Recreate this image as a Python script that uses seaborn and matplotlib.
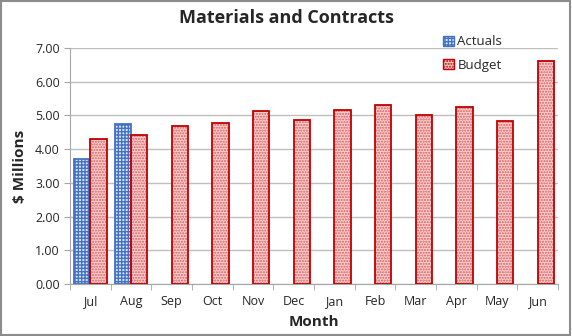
import numpy as np
import pandas as pd
import matplotlib
matplotlib.use("Agg")
import matplotlib.pyplot as plt
import seaborn as sns
from matplotlib.ticker import FixedLocator, MultipleLocator
from matplotlib.patches import Patch
from matplotlib.colors import to_hex

months = ["Jul", "Aug", "Sep", "Oct", "Nov", "Dec", "Jan", "Feb", "Mar", "Apr", "May", "Jun"]
actuals = [3.72, 4.76, np.nan, np.nan, np.nan, np.nan, np.nan, np.nan, np.nan, np.nan, np.nan, np.nan]
budget = [4.30, 4.42, 4.70, 4.78, 5.13, 4.87, 5.17, 5.30, 5.02, 5.25, 4.83, 6.62]
series = ["Actuals", "Budget"]

df = pd.DataFrame({
    "Month": months * 2,
    "Value": actuals + budget,
    "Series": [series[0]] * len(months) + [series[1]] * len(months),
})

sns.set_style("white")
plt.rcParams["font.family"] = ["Open Sans", "DejaVu Sans"]
plt.rcParams["hatch.linewidth"] = 1.0

fig = plt.figure(figsize=(5.72, 3.36), dpi=100)
ax = fig.add_axes([0.1224, 0.155, 0.853, 0.702])

key_colors = {"Actuals": "#0000ff", "Budget": "#ff0000"}
sns.barplot(data=df, x="Month", y="Value", hue="Series", order=months,
            hue_order=series, width=0.8, ax=ax, legend=False, saturation=1,
            palette=key_colors)

styles = {
    "Actuals": dict(face="#DCE6F5", hatch="+++++", edge="#4472C4", hc="#4472C4"),
    "Budget": dict(face="#F6D0D0", hatch="......", edge="#C00000", hc="#E05A5A"),
}
color_to_series = {v: k for k, v in key_colors.items()}
bars = list(ax.patches)
for p in bars:
    sname = color_to_series.get(to_hex(p.get_facecolor()))
    if sname is None or np.isnan(p.get_height()) or p.get_height() == 0:
        continue
    s = styles[sname]
    p.set_facecolor(s["face"])
    p.set_hatch(s["hatch"])
    p.set_edgecolor(s["hc"])
    p.set_linewidth(0)
    ax.add_patch(plt.Rectangle(p.get_xy(), p.get_width(), p.get_height(),
                               fill=False, edgecolor=s["edge"], linewidth=1.3, zorder=3))

ax.set_ylim(0, 7)
ax.set_xlim(-0.5, len(months) - 0.5)
ax.yaxis.set_major_locator(MultipleLocator(1))
ax.set_yticks(np.arange(0, 8))
ax.set_yticklabels([f"{v:.2f}" for v in np.arange(0, 8)])
ax.yaxis.grid(True, color="#BFBFBF", linewidth=1)
ax.set_axisbelow(True)
for side in ["top", "right"]:
    ax.spines[side].set_visible(False)
for side in ["left", "bottom"]:
    ax.spines[side].set_color("#A6A6A6")
ax.tick_params(axis="y", length=4, color="#A6A6A6", labelsize=9, direction="out", left=True)
ax.tick_params(axis="x", which="major", length=0, labelsize=9, pad=8)
ax.xaxis.set_minor_locator(FixedLocator(np.arange(-0.5, len(months), 1.0)))
ax.tick_params(axis="x", which="minor", length=4, color="#A6A6A6", direction="out", bottom=True)

ax.set_xlabel("Month", fontsize=11, fontweight="bold", labelpad=5)
ax.set_ylabel("$ Millions", fontsize=11, fontweight="bold", labelpad=6)
fig.text(0.5, 0.945, "Materials and Contracts", ha="center", va="center",
         fontsize=13, fontweight="bold")

handles = [Patch(facecolor=styles[s]["face"], hatch=styles[s]["hatch"],
                 edgecolor=styles[s]["edge"], label=s) for s in series]
leg = ax.legend(handles=handles, loc="upper left", bbox_to_anchor=(0.74, 1.105),
                frameon=False, fontsize=9.5, handlelength=0.8, handleheight=0.8,
                handletextpad=0.3, labelspacing=0.8)

fig.patches.append(plt.Rectangle((0.002, 0.003), 0.995, 0.994, transform=fig.transFigure,
                                 fill=False, edgecolor="#8C8C8C", linewidth=1.5))
fig.savefig("out.png", dpi=100)
